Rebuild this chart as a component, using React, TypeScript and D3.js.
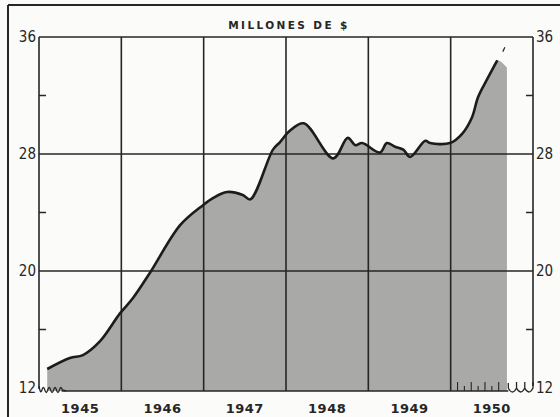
import * as d3 from 'd3';

// Months counted from January 1945
const lineMonths = [1.2, 4.5, 6.4, 8.9, 11.8, 13.7, 16.2, 20.6, 23.9, 25.4, 27.4, 29.7, 30.8, 34.1, 35.1, 36.6, 38.6, 42.9, 45.0, 46.1, 47.1, 49.7, 50.7, 51.9, 53.1, 54.1, 56.3, 57.0, 59.9, 61.7, 63.1, 64.0, 65.3, 66.8];
const lineValues = [13.3, 14.05, 14.25, 15.2, 17.1, 18.15, 19.9, 23.15, 24.5, 25.0, 25.4, 25.2, 24.9, 28.3, 28.8, 29.6, 30.1, 27.7, 29.1, 28.6, 28.75, 28.1, 28.75, 28.5, 28.3, 27.8, 28.9, 28.75, 28.75, 29.4, 30.5, 31.9, 33.1, 34.4];
// the shading runs a little past the end of the line
const fillEndMonth = 68.2;
const fillEndValue = 33.9;

const years = ['1945', '1946', '1947', '1948', '1949', '1950'];
const yTicks = [12, 20, 28, 36];
const yMinorTicks = [16, 24, 32];
const title = 'MILLONES DE $';

const width = 560;
const height = 417;
const margin = { top: 37, right: 27, bottom: 29, left: 39 };

export default function App() {
  const innerRight = width - margin.right;
  const innerBottom = height - margin.bottom;

  const x = d3.scaleLinear().domain([0, 72]).range([margin.left, innerRight]);
  const y = d3.scaleLinear().domain([12, 36]).range([innerBottom, margin.top]);

  const points: [number, number][] = lineMonths.map((m, i) => [m, lineValues[i]]);
  const fillPoints: [number, number][] = [...points, [fillEndMonth, fillEndValue]];

  const line = d3.line<[number, number]>()
    .x(d => x(d[0]))
    .y(d => y(d[1]))
    .curve(d3.curveCatmullRom.alpha(0.5));
  const area = d3.area<[number, number]>()
    .x(d => x(d[0]))
    .y0(y(12) + 3)
    .y1(d => y(d[1]))
    .curve(d3.curveCatmullRom.alpha(0.5));

  const ink = '#262626';
  const base = y(12) + 3;

  // broken-axis squiggle at the lower left
  const leftWave = d3.path();
  {
    const x0 = x(0), x1 = x(3.4);
    const n = 4;
    const step = (x1 - x0) / n;
    leftWave.moveTo(x0, base - 5);
    for (let i = 0; i < n; i++) {
      const a = x0 + i * step;
      leftWave.quadraticCurveTo(a + step * 0.25, base + 4, a + step * 0.5, base - 1);
      leftWave.quadraticCurveTo(a + step * 0.75, base - 6, a + step, base - 1);
    }
    leftWave.lineTo(x1 + 4, base);
  }

  // broken-axis squiggle at the lower right
  const rightWave = d3.path();
  {
    const x0 = x(68.4), x1 = x(72);
    const n = 3;
    const step = (x1 - x0) / n;
    rightWave.moveTo(x0, base - 8);
    for (let i = 0; i < n; i++) {
      const a = x0 + i * step;
      rightWave.lineTo(a, base - 3);
      rightWave.quadraticCurveTo(a + step * 0.5, base + 5, a + step, base - 3);
      rightWave.lineTo(a + step, base - 9);
      if (i < n - 1) rightWave.moveTo(a + step, base - 3);
    }
  }

  const monthTicks = d3.range(61, 68);

  return (
    <svg width={width} height={height} style={{ position: 'absolute', left: 0, top: 0, background: '#fbfbf9' }}>
      {/* outer frame */}
      <line x1={8} x2={width} y1={5} y2={5} stroke={ink} strokeWidth={2} />
      <line x1={8} x2={8} y1={5} y2={height} stroke={ink} strokeWidth={2} />

      <text x={289} y={29} textAnchor="middle" fontFamily="DejaVu Sans" fontWeight="bold" fontSize={10.5} letterSpacing={2.4} fill={ink}>
        {title}
      </text>

      <path d={area(fillPoints) ?? ''} fill="#a9a9a7" />

      {/* grid */}
      {years.slice(1).map((yr, i) => (
        <line key={yr} x1={x((i + 1) * 12)} x2={x((i + 1) * 12)} y1={margin.top} y2={base} stroke={ink} strokeWidth={1.6} />
      ))}
      {yTicks.filter(t => t !== 12).map(t => (
        <line key={t} x1={margin.left} x2={innerRight} y1={y(t)} y2={y(t)} stroke={ink} strokeWidth={1.5} />
      ))}
      <line x1={margin.left} x2={margin.left} y1={margin.top} y2={y(12) + 1} stroke={ink} strokeWidth={1.6} />
      <line x1={innerRight} x2={innerRight} y1={margin.top} y2={y(12) - 2} stroke={ink} strokeWidth={1.6} />
      <line x1={x(3.3)} x2={x(68.4)} y1={base} y2={base} stroke={ink} strokeWidth={1.4} />
      <path d={leftWave.toString()} fill="none" stroke={ink} strokeWidth={1.3} />
      <path d={rightWave.toString()} fill="none" stroke={ink} strokeWidth={1.3} />
      {monthTicks.map((m, i) => (
        <line key={m} x1={x(m)} x2={x(m)} y1={base} y2={base - (i % 2 === 0 ? 9 : 5)} stroke={ink} strokeWidth={1.1} />
      ))}

      {yMinorTicks.map(t => (
        <g key={t}>
          <line x1={margin.left} x2={margin.left + 7} y1={y(t)} y2={y(t)} stroke={ink} strokeWidth={1.5} />
          <line x1={innerRight - 7} x2={innerRight} y1={y(t)} y2={y(t)} stroke={ink} strokeWidth={1.5} />
        </g>
      ))}

      <path d={line(points) ?? ''} fill="none" stroke="#1c1c1c" strokeWidth={2.6} strokeLinejoin="round" />
      <line x1={x(67.6)} x2={x(67.9)} y1={y(35.0)} y2={y(35.3)} stroke={ink} strokeWidth={1.2} />

      {yTicks.map(t => (
        <g key={t} fontFamily="DejaVu Sans Condensed" fontSize={15} fill={ink}>
          <text x={margin.left - 3} y={y(t)} dy="0.36em" textAnchor="end">{t}</text>
          <text x={innerRight + 3} y={y(t)} dy="0.36em" textAnchor="start">{t}</text>
        </g>
      ))}

      {years.map((yr, i) => (
        <text key={yr} x={x(i * 12 + 6)} y={413} textAnchor="middle" fontFamily="DejaVu Sans" fontWeight="bold" fontSize={13} letterSpacing={0.5} fill={ink}>
          {yr}
        </text>
      ))}
    </svg>
  );
}
